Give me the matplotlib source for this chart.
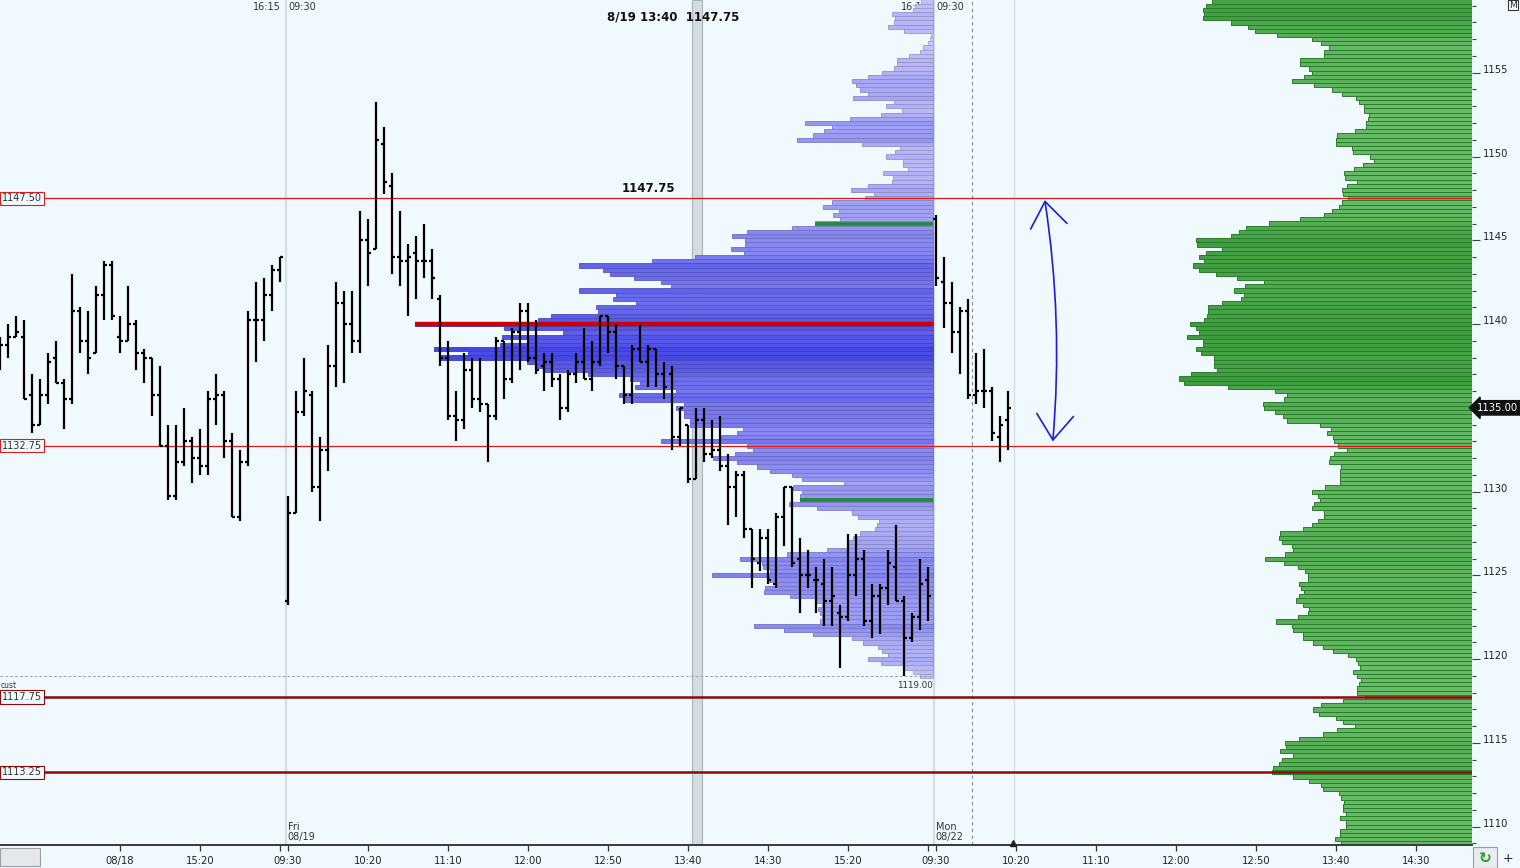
import numpy as np
import matplotlib
matplotlib.use("Agg")
import matplotlib.pyplot as plt
from matplotlib.patches import Rectangle
from matplotlib.transforms import blended_transform_factory
from matplotlib.colors import to_rgb
from matplotlib.ticker import MultipleLocator

# ---------------- data ----------------
# 5-minute OHLC bars: Thu 08/18 (13:15-16:10), Fri 08/19 (09:30-16:10), Mon 08/22 (09:30-10:15)
OPEN = [1137.75, 1138.75, 1139.25, 1139.25, 1135.75, 1134.0, 1135.75, 1138.0, 1136.5, 1135.5,
        1140.75, 1139.0, 1138.25, 1141.75, 1143.5, 1139.25, 1139.0, 1140.0, 1138.25, 1138.0,
        1135.75, 1132.75, 1129.75, 1131.75, 1133.0, 1132.0, 1131.5, 1135.5, 1135.75, 1133.0,
        1128.5, 1131.75, 1140.25, 1140.25, 1141.75, 1143.25,
        1123.5, 1128.75, 1134.75, 1135.75, 1130.25, 1132.5, 1137.5, 1141.25, 1140.0, 1139.0,
        1145.0, 1144.5, 1150.75, 1148.25, 1144.0, 1143.75, 1144.25, 1143.75, 1143.75, 1141.5,
        1138.0, 1134.5, 1134.25, 1137.25, 1135.5, 1135.25, 1134.5, 1139.0, 1136.75, 1139.5,
        1140.75, 1138.0, 1137.5, 1137.75, 1136.75, 1135.0, 1137.0, 1137.75, 1136.75, 1137.75,
        1140.5, 1139.5, 1137.5, 1135.75, 1138.5, 1137.75, 1138.5, 1137.0, 1137.0, 1133.25,
        1134.0, 1130.75, 1134.25, 1132.25, 1132.5, 1131.5, 1130.25, 1131.0, 1127.75, 1125.75,
        1127.25, 1124.5, 1128.5, 1130.25, 1126.0, 1125.0, 1124.75, 1124.5, 1123.5, 1122.75,
        1122.5, 1125.0, 1126.0, 1122.25, 1123.75, 1124.25, 1125.5, 1123.5, 1121.25, 1122.5,
        1124.75,
        1146.25, 1142.5, 1141.25, 1139.5, 1140.75, 1135.75, 1136.0, 1136.0, 1133.25, 1134.25]
HIGH = [1139.25, 1140.0, 1140.5, 1140.25, 1137.0, 1136.75, 1138.25, 1139.0, 1136.75, 1143.0,
        1141.0, 1140.75, 1142.25, 1143.75, 1143.75, 1140.5, 1142.25, 1140.25, 1138.5, 1138.0,
        1137.5, 1134.0, 1134.0, 1135.0, 1133.25, 1133.75, 1136.0, 1137.0, 1136.0, 1133.5,
        1132.5, 1140.75, 1142.5, 1142.75, 1143.5, 1144.0,
        1129.75, 1136.0, 1138.0, 1136.0, 1133.25, 1138.75, 1142.5, 1142.0, 1142.0, 1146.75,
        1146.25, 1153.25, 1151.75, 1149.0, 1146.75, 1144.75, 1145.25, 1146.0, 1144.5, 1141.75,
        1139.0, 1136.0, 1138.25, 1138.0, 1138.0, 1135.25, 1139.25, 1139.0, 1139.75, 1141.25,
        1141.25, 1140.25, 1138.25, 1138.25, 1137.0, 1137.25, 1138.25, 1139.75, 1139.0, 1140.5,
        1140.5, 1140.0, 1137.5, 1138.75, 1140.0, 1138.75, 1138.5, 1137.75, 1137.5, 1135.0,
        1134.0, 1135.0, 1135.0, 1134.25, 1134.5, 1132.25, 1131.25, 1131.25, 1127.75, 1127.75,
        1127.75, 1128.75, 1130.25, 1130.25, 1127.25, 1126.5, 1125.5, 1126.0, 1125.5, 1123.25,
        1127.5, 1127.5, 1126.5, 1124.5, 1124.5, 1126.5, 1128.0, 1123.75, 1122.75, 1126.0,
        1125.5,
        1146.5, 1144.0, 1142.5, 1141.0, 1141.5, 1138.25, 1138.5, 1136.25, 1134.5, 1136.0]
LOW = [1137.25, 1138.0, 1139.25, 1135.5, 1133.5, 1134.0, 1135.25, 1136.5, 1133.75, 1135.25,
       1138.25, 1137.0, 1138.25, 1140.25, 1140.25, 1138.25, 1139.0, 1137.25, 1136.5, 1134.5,
       1132.75, 1129.5, 1129.5, 1131.5, 1130.5, 1131.0, 1131.0, 1134.0, 1132.0, 1128.5,
       1128.25, 1131.5, 1137.75, 1139.0, 1140.75, 1142.5,
       1123.25, 1128.75, 1134.5, 1130.0, 1128.25, 1131.25, 1136.25, 1136.5, 1138.25, 1138.25,
       1142.25, 1144.5, 1147.75, 1143.0, 1142.25, 1140.5, 1141.5, 1142.75, 1141.5, 1137.5,
       1134.25, 1133.0, 1133.75, 1135.0, 1134.75, 1131.75, 1134.25, 1135.5, 1136.5, 1137.25,
       1137.75, 1137.0, 1136.0, 1136.25, 1134.25, 1134.75, 1136.5, 1136.75, 1136.0, 1137.5,
       1138.25, 1136.75, 1135.25, 1135.25, 1137.75, 1136.25, 1136.25, 1135.5, 1132.5, 1132.75,
       1130.5, 1130.75, 1131.75, 1132.0, 1131.25, 1128.0, 1128.5, 1127.25, 1124.25, 1125.25,
       1124.5, 1124.25, 1126.75, 1125.5, 1122.75, 1124.25, 1122.75, 1122.0, 1122.0, 1119.5,
       1122.25, 1123.75, 1122.0, 1121.25, 1121.5, 1123.25, 1123.5, 1119.0, 1121.0, 1121.75,
       1122.25,
       1142.25, 1139.75, 1138.25, 1137.0, 1135.5, 1135.25, 1135.0, 1133.0, 1131.75, 1132.5]
CLOSE = [1138.75, 1139.25, 1139.5, 1135.5, 1134.0, 1135.75, 1137.75, 1136.5, 1135.5, 1140.75,
         1139.0, 1138.0, 1141.75, 1143.5, 1140.5, 1139.0, 1140.0, 1138.25, 1138.0, 1135.75,
         1132.75, 1129.75, 1131.75, 1133.0, 1132.0, 1131.5, 1135.5, 1135.75, 1133.0, 1128.5,
         1131.75, 1140.25, 1140.25, 1141.75, 1143.25, 1144.0,
         1128.75, 1134.75, 1136.0, 1130.25, 1132.5, 1137.5, 1141.25, 1140.0, 1139.0, 1145.0,
         1144.25, 1151.0, 1148.5, 1144.0, 1143.75, 1144.0, 1143.75, 1143.75, 1142.75, 1138.0,
         1134.5, 1134.25, 1137.25, 1135.5, 1135.25, 1134.5, 1139.0, 1136.75, 1139.5, 1140.75,
         1138.0, 1137.25, 1137.75, 1136.75, 1135.0, 1137.0, 1137.75, 1136.75, 1137.75, 1140.5,
         1139.5, 1137.5, 1135.75, 1138.5, 1137.75, 1138.5, 1137.0, 1136.25, 1133.25, 1135.0,
         1130.75, 1134.25, 1132.25, 1132.5, 1131.5, 1130.25, 1131.0, 1127.75, 1126.0, 1127.25,
         1124.75, 1128.5, 1130.25, 1125.75, 1125.0, 1125.0, 1124.75, 1123.5, 1123.75, 1122.5,
         1125.0, 1126.0, 1122.25, 1123.75, 1124.25, 1125.75, 1123.5, 1121.25, 1122.5, 1124.5,
         1123.75,
         1142.75, 1141.25, 1139.5, 1140.75, 1135.75, 1136.0, 1136.0, 1133.5, 1134.0, 1135.0]

XTICK_POS = [15, 25, 36, 46, 56, 66, 76, 86, 96, 106, 117, 127, 137, 147, 157, 167, 177]
XTICK_LABELS = ["08/18", "15:20", "09:30", "10:20", "11:10", "12:00", "12:50", "13:40",
                "14:30", "15:20", "09:30", "10:20", "11:10", "12:00", "12:50", "13:40", "14:30"]
SESSION_END_TICKS = [35, 116]
DAY_LABELS = ["Fri\n08/19", "Mon\n08/22"]
DAY_POS = [36, 117]

TICK = 0.25
# blue (session) volume profile, rows from 1159.25 down to 1119.00
BLUE_TOP = 1159.25
BLUE_VOL = [12, 18, 20, 41, 38, 39, 45, 29, 2, 3, 5, 10, 13, 24, 36, 36, 39, 51, 65, 81,
            77, 73, 65, 80, 39, 47, 31, 52, 83, 128, 101, 109, 120, 136, 71, 33, 38, 47, 30, 30,
            25, 50, 40, 41, 65, 82, 59, 68, 101, 110, 94, 100, 93, 118, 141, 186, 201, 188, 188, 202,
            189, 238, 281, 354, 330, 323, 299, 272, 262, 354, 317, 320, 297, 337, 335, 382, 395, 518, 429, 370,
            431, 406, 433, 499, 465, 493, 406, 398, 388, 345, 303, 293, 298, 257, 314, 308, 249, 257, 249, 249,
            243, 243, 190, 196, 212, 272, 186, 180, 198, 220, 196, 176, 163, 141, 131, 89, 140, 131, 133, 133,
            144, 116, 81, 75, 54, 56, 58, 73, 80, 86, 86, 106, 146, 193, 171, 170, 163, 221, 166, 156,
            168, 169, 143, 118, 111, 115, 113, 111, 113, 179, 149, 120, 81, 70, 55, 51, 45, 65, 52, 30,
            20, 13]
BLUE_POC = 1140.00
BLUE_VAH = 1146.00
BLUE_VAL = 1129.50
# green (composite) volume profile, rows from 1159.25 down to 1109.00
GREEN_TOP = 1159.25
GREEN_VOL = [260, 266, 269, 268, 269, 241, 224, 217, 195, 160, 151, 143, 148, 148, 172, 172, 163, 160, 168, 180,
             158, 140, 130, 116, 113, 108, 108, 103, 104, 106, 106, 117, 135, 136, 136, 120, 119, 102, 98, 109,
             118, 128, 127, 115, 125, 130, 129, 124, 130, 133, 140, 148, 172, 203, 226, 233, 241, 276, 275, 250,
             266, 273, 268, 279, 273, 256, 235, 208, 227, 238, 228, 231, 250, 264, 264, 265, 268, 282, 276, 273,
             285, 269, 269, 276, 271, 258, 258, 258, 255, 281, 293, 288, 244, 197, 185, 188, 209, 208, 197, 189,
             185, 152, 141, 145, 139, 138, 134, 125, 138, 142, 143, 131, 132, 132, 132, 132, 147, 160, 154, 152,
             158, 160, 148, 148, 154, 160, 169, 192, 193, 190, 180, 179, 187, 207, 188, 174, 167, 164, 164, 173,
             171, 168, 173, 176, 169, 163, 164, 174, 196, 180, 179, 169, 169, 159, 149, 139, 124, 116, 114, 112,
             119, 115, 111, 113, 115, 115, 107, 129, 151, 159, 153, 136, 129, 117, 135, 149, 173, 187, 186, 192,
             179, 190, 193, 199, 200, 179, 163, 151, 149, 133, 131, 128, 129, 129, 126, 132, 126, 126, 132, 132,
             137, 131]

LEVELS_THIN = [1147.50, 1132.75]
LEVELS_THICK = [1117.75, 1113.25]
LOW_MARK = 1119.00
LAST_PRICE = 1135.00
CURSOR_TEXT = "8/19 13:40  1147.75"
CURSOR_VALUE = "1147.75"
ARROW_TOP = 1147.40
ARROW_BOTTOM = 1133.00

# ---------------- style / layout ----------------
BG = "#f0f9fd"
W, H = 1520, 868
PX_PER_BAR = 8.0
X_MAX = 184.0
Y_MIN, Y_MAX = 1108.91, 1159.34
BLUE_RIGHT = 116.625

plt.rcParams["font.family"] = ["DejaVu Sans"]

fig = plt.figure(figsize=(W / 100, H / 100), dpi=100)
fig.patch.set_facecolor(BG)
ax = fig.add_axes([0, 23 / H, 1472 / W, 845 / H])
ax.set_facecolor(BG)
ax.set_xlim(0, X_MAX)
ax.set_ylim(Y_MIN, Y_MAX)


def shade(vols, light, dark, gamma):
    v = np.asarray(vols, float)
    t = (v / v.max()) ** gamma
    lo = np.array(to_rgb(light))
    hi = np.array(to_rgb(dark))
    return lo + (hi - lo) * t[:, None]


# background verticals
for sb in [35.75, 116.75]:
    ax.axvline(sb, color="#d3dee3", lw=1.6, zorder=0.5)
ax.axvline(126.75, color="#d6e0e4", lw=1.0, zorder=0.5)
ax.axvline(121.5, color="#8a8a8a", lw=0.8, ls=(0, (3, 3)), zorder=0.6)
# cursor band
ax.add_patch(Rectangle((86.54, Y_MIN), 1.25, Y_MAX - Y_MIN, fc="#d3dde1", ec="#a9b5ba",
                       lw=0.8, zorder=1))

# session time labels at top
ytop = 1158.92
for xr, xl in [(35.1, 36.1), (116.1, 117.1)]:
    ax.text(xr, ytop, "16:15", ha="right", va="center", fontsize=7, color="#333333", zorder=1.5)
    ax.text(xl, ytop, "09:30", ha="left", va="center", fontsize=7, color="#333333", zorder=1.5)

# blue profile
bp = BLUE_TOP - TICK * np.arange(len(BLUE_VOL))
bw = np.array(BLUE_VOL, float) / PX_PER_BAR
bc = shade(BLUE_VOL, "#cbcbfa", "#4242e6", 0.7)
ax.barh(bp, bw, left=BLUE_RIGHT - bw, height=TICK, color=bc, edgecolor=bc * 0.82,
        linewidth=0.6, zorder=2)

# green profile
gp = GREEN_TOP - TICK * np.arange(len(GREEN_VOL))
gw = np.array(GREEN_VOL, float) / PX_PER_BAR
gc = shade(GREEN_VOL, "#74c574", "#3b9b3b", 1.6)
ax.barh(gp, gw, left=X_MAX - gw, height=TICK, color=gc, edgecolor="#2a7d2a",
        linewidth=0.7, zorder=2)


def blue_width(price):
    i = int(round((BLUE_TOP - price) / TICK))
    return bw[i]


ax.hlines(BLUE_POC, BLUE_RIGHT - blue_width(BLUE_POC), BLUE_RIGHT, color="#cc0000", lw=3.2, zorder=3.5)
for lv in [BLUE_VAH, BLUE_VAL]:
    ax.hlines(lv, BLUE_RIGHT - blue_width(lv), BLUE_RIGHT, color="#1e8c32", lw=2.6, zorder=3.5)

# price level lines
for lv in LEVELS_THIN:
    ax.axhline(lv, color="#e01818", lw=0.9, zorder=3)
for lv in LEVELS_THICK:
    ax.axhline(lv, color="#8b0a0a", lw=1.8, zorder=3)
ax.hlines(LOW_MARK, 0, BLUE_RIGHT - 0.3, color="#9aa4ae", lw=0.7, ls=(0, (3, 2)), zorder=2.5)

# OHLC bars
xs = np.arange(len(OPEN))
ax.vlines(xs, LOW, HIGH, color="black", lw=1.6, zorder=5)
ax.hlines(OPEN, xs - 0.42, xs, color="black", lw=1.6, zorder=5)
ax.hlines(CLOSE, xs, xs + 0.42, color="black", lw=1.6, zorder=5)

# level labels on the left
for lv in LEVELS_THIN:
    ax.text(0.25, lv, f"{lv:.2f}", ha="left", va="center", fontsize=7, color="#333333", zorder=7,
            bbox=dict(boxstyle="square,pad=0.18", fc=BG, ec="#d42020", lw=0.8))
for lv in LEVELS_THICK:
    ax.text(0.25, lv, f"{lv:.2f}", ha="left", va="center", fontsize=7, color="#333333", zorder=7,
            bbox=dict(boxstyle="square,pad=0.18", fc=BG, ec="#8b0a0a", lw=0.8))
ax.text(0.05, 1118.45, "cust", ha="left", va="center", fontsize=5.5, color="#333333", zorder=7)
ax.text(BLUE_RIGHT, 1118.45, f"{LOW_MARK:.2f}", ha="right", va="center", fontsize=6.3,
        color="#333333", zorder=7)

# cursor labels
ax.text(84.1, 1158.32, CURSOR_TEXT, ha="center", va="center", fontsize=8.5, fontweight="bold",
        color="#111111", zorder=7)
ax.text(81.1, 1148.12, CURSOR_VALUE, ha="center", va="center", fontsize=8.5, fontweight="bold",
        color="#111111", zorder=7)

# day labels
for lbl, xp in zip(DAY_LABELS, DAY_POS):
    ax.text(xp - 0.05, 1109.68, lbl, ha="left", va="center", fontsize=7, color="#333333",
            linespacing=1.05, zorder=7)

# hand-drawn arrow
ax.annotate("", xy=(131.6, ARROW_BOTTOM), xytext=(130.6, ARROW_TOP),
            arrowprops=dict(arrowstyle="<->,head_length=1.5,head_width=1.1", color="#1c1ce0",
                            lw=1.2, connectionstyle="arc3,rad=-0.06", shrinkA=0, shrinkB=0,
                            mutation_scale=12), zorder=6)

# current bar marker
ax.plot([126.6], [Y_MIN + 0.12], marker="^", color="#222222", ms=4.5, clip_on=False, zorder=8)

# axes styling
for s in ["top", "left", "right"]:
    ax.spines[s].set_visible(False)
ax.spines["bottom"].set_color("#3a3a3a")
ax.spines["bottom"].set_linewidth(1.4)
ax.set_xticks(XTICK_POS)
ax.set_xticklabels(XTICK_LABELS)
ax.set_xticks(SESSION_END_TICKS, minor=True)
ax.tick_params(axis="x", which="both", length=4, width=0.9, color="#333333", labelsize=7.2,
               labelcolor="#222222", pad=4)
ax.yaxis.tick_right()
ax.set_yticks(np.arange(1110, 1160, 5))
ax.set_yticklabels([f"{v:d}" for v in np.arange(1110, 1160, 5)])
ax.yaxis.set_minor_locator(MultipleLocator(1))
ax.tick_params(axis="y", which="major", length=5.8, width=0.8, color="#444444", labelsize=7.2,
               labelcolor="#222222", pad=2)
ax.tick_params(axis="y", which="minor", length=2.8, width=0.8, color="#444444")
for t in ax.get_yticklabels():
    t.set_verticalalignment("baseline")

# last price tag (covers the 1135 axis label, as in the source)
tr = blended_transform_factory(ax.transAxes, ax.transData)
ax.text(1.0035, LAST_PRICE, f"{LAST_PRICE:.2f}", transform=tr, ha="left", va="center",
        fontsize=7.2, color="white", clip_on=False, zorder=10,
        bbox=dict(boxstyle="larrow,pad=0.22", fc="#111111", ec="#111111"))

# corner widgets
fig.text(1509 / W, 1 - 5 / H, "M", fontsize=6.5, ha="left", va="center", color="#222222",
         bbox=dict(boxstyle="square,pad=0.1", fc="white", ec="#333333", lw=0.8))
fig.add_artist(Rectangle((0, 2 / H), 40 / W, 18 / H, transform=fig.transFigure,
                         fc="#e4e8eb", ec="#9aa0a6", lw=0.8))
fig.add_artist(Rectangle((1473 / W, 0), 24 / W, 21 / H, transform=fig.transFigure,
                         fc="#e8ecef", ec="#9aa0a6", lw=0.8))
fig.text(1485 / W, 10 / H, "\u21bb", fontsize=11, fontweight="bold", ha="center", va="center",
         color="#2a9a2a")
fig.text(1508 / W, 10 / H, "+", fontsize=9, ha="center", va="center", color="#222222")

fig.savefig("out.png", dpi=100, facecolor=BG)
